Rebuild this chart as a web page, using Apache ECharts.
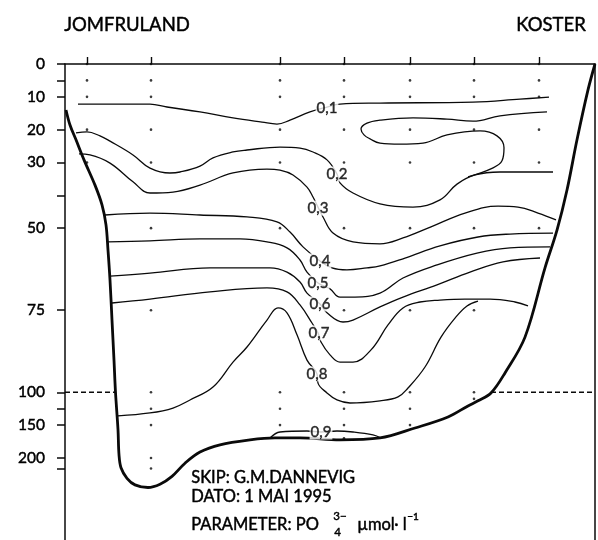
<!DOCTYPE html>
<html>
<head>
<meta charset="utf-8">
<script src="https://cdn.jsdelivr.net/npm/echarts@6/dist/echarts.min.js"></script>
<style>
html, body { margin: 0; padding: 0; background: #fff; }
#chart { width: 598px; height: 540px; }
</style>
</head>
<body>
<div id="chart"></div>
<script>
// Depth axis: linear down to 100 m, compressed five times below 100 m.
function toAxis(d) { return d <= 100 ? d : 100 + (d - 100) / 5; }
function fromAxis(t) { return t <= 100 ? t : 100 + (t - 100) * 5; }

// Section ends
const sectionEnds = ['JOMFRULAND', 'KOSTER'];

// Station positions along the section (distance units) and sampled depths (m)
const stations = [4.4, 17.2, 43, 55.8, 69, 81.8, 94.8];
const sampleDepths = [
  [0, 5, 10, 20, 30],
  [0, 5, 10, 20, 30, 50, 75, 100, 125, 150, 200, 216],
  [0, 5, 10, 20, 30, 50, 100, 125, 150],
  [0, 5, 10, 20, 30, 50, 75, 100, 125, 150, 170],
  [0, 5, 10, 20, 30, 50, 75, 100, 125, 150],
  [0, 5, 10, 20, 30, 50, 75, 100, 110],
  [0, 5, 10, 20, 30, 50]
];

// Depth axis ticks and labels (m)
const depthTicks = [0, 5, 10, 20, 30, 40, 50, 75, 100, 125, 150, 200, 216];
const depthLabels = [0, 10, 20, 30, 50, 75, 100, 150, 200];

// Sea floor profile [distance, depth m]
const seaFloor = [
  [0.2, 14], [1, 18.6], [2.2, 23.1], [3.8, 29.2], [6, 36.9], [7.4, 42.9], [8.2, 49],
  [8.6, 56.7], [9, 65.8], [9.4, 78], [9.8, 90.2], [10.1, 100], [10.6, 157], [10.8, 195],
  [11.2, 215], [12.4, 231], [14, 241], [16.6, 245], [19, 240], [21.4, 228], [24, 208],
  [27, 191], [31, 180], [37, 172.6], [42, 169.6], [47, 169.6], [55, 172.6], [63, 169.6],
  [70, 154.4], [76.6, 137.6], [80.6, 120.8], [82.6, 113], [85.2, 101], [88, 94.1],
  [92, 83.2], [96, 62.1], [98.4, 50.6], [100.4, 38.4], [102.4, 23.1], [104.6, 7.9], [106, 0]
];

// PO4 isolines [distance, depth m]
const iso01 = [
  [2.6, 12.2], [17, 12.2], [20.4, 13.1], [27, 14.6], [33.6, 16.4], [39.4, 17.7], [42.4, 18.3],
  [45, 17.1], [49, 14.6], [52.4, 13.1], [55, 12.2], [63, 11.9], [81.6, 11.6], [91, 10.7], [96.8, 10.1]
];
const iso02 = [
  [2.2, 21], [4.4, 20.7], [7, 21.9], [9, 23.5], [13.6, 27.7], [17, 31.7], [21, 33.2], [23, 32.9],
  [27, 31.1], [29.6, 28.6], [33.6, 26.8], [36.4, 26.2], [43, 25.3], [47, 25.6], [49.6, 26.8],
  [52.4, 29.2], [54.4, 33.5], [55, 36.2], [57.6, 39.3], [63, 42.6], [69.6, 43.6], [75, 41.4],
  [78.4, 36.6], [82, 33.8], [87, 32.9], [97.6, 32.9]
];
const iso02b = [
  [96.4, 14.6], [87, 15.8], [81.6, 17.4], [76.4, 16.8], [69.6, 16.4], [63, 17.1], [60.4, 18],
  [59.2, 19.8], [59.8, 21.6], [61, 22.8], [63, 24.1], [67, 24.4], [71.6, 24.1], [76.4, 21.6],
  [83, 20.4], [86.4, 21.9], [87.8, 25.5], [87.4, 29.5], [85.4, 31.8], [80.6, 34.4]
];
const iso03 = [
  [2.8, 27.4], [5, 27.7], [9, 30.2], [13.6, 35.9], [17, 39.3], [21.6, 39], [27, 36.9],
  [33.6, 33.2], [40.4, 32], [43, 32.3], [45.6, 33.8], [48.4, 37.5], [49.6, 40.5], [50.6, 43.6],
  [51.6, 46.6], [53.6, 51.5], [57.6, 54.2], [63, 54.8], [67.6, 53], [73.2, 49.6], [80, 45.4],
  [86.6, 43.3], [90.6, 43.6], [94.6, 45.4], [98.2, 47.5]
];
const iso04 = [
  [8, 46], [17, 45.4], [27, 46], [36.4, 46.6], [42.4, 48.1], [45, 51.2], [47.6, 55.7],
  [51, 60], [53.4, 62.1], [56.4, 62.7], [60.4, 62.1], [63, 61.5], [68, 59.1], [75, 55.4],
  [82.6, 52.7], [89, 51.8], [97.6, 51.5]
];
const iso05 = [
  [8.6, 54.2], [17, 53.9], [27, 53.3], [35, 53.3], [40.4, 54.2], [44.4, 56], [47, 59.7],
  [48.4, 63.4], [50.6, 66.7], [53, 68.5], [55, 71], [58, 71], [63, 69.8], [67.6, 65.2],
  [74.4, 61.2], [82.4, 57.6], [89, 56], [97, 55.7]
];
const iso06 = [
  [9, 64.6], [17, 63.7], [29, 62.1], [41, 62.1], [44.4, 63.4], [47, 66.4], [48.4, 69.8],
  [51, 73.1], [52.4, 75.8], [55.6, 78.6], [57.6, 78], [63, 74], [67.6, 71], [74.4, 67.3],
  [81, 63.4], [87.6, 60.3], [95, 59.1]
];
const iso07 = [
  [9.4, 72.8], [17, 71.6], [29, 69.4], [40.4, 68.2], [44.4, 69.4], [47, 73.4], [49.4, 78.9],
  [50.6, 81.9], [51.2, 84.7], [53, 88.6], [55, 90.8], [57.6, 90.8], [61.2, 87.1], [64.6, 79.5],
  [67.6, 74.3], [71, 72.5], [75, 71.9], [80, 71.6], [85, 71.6], [90, 72.5], [92.6, 73.7]
];
const iso08 = [
  [10.6, 136], [17, 131.5], [21.6, 124], [25, 111.7], [29.6, 98.4], [33.6, 90.8], [36.4, 86.2],
  [40.4, 78], [42.6, 74.3], [44.4, 75.8], [46.4, 82.5], [48.4, 90.2], [50.4, 94.4], [50.6, 97.2],
  [52.4, 101], [54.4, 111.7], [57, 116.3], [63, 113], [66.6, 107], [68.6, 98.7], [72, 92.3],
  [75.2, 83.2], [78, 77.4], [80.4, 73.7], [82.6, 72.2]
];
const iso09 = [
  [41, 169.6], [43, 160.5], [48.4, 159], [51.2, 160.5], [54.4, 159], [57.6, 160.5],
  [61.6, 165], [63.2, 169.6]
];
const isolines = [iso01, iso02, iso02b, iso03, iso04, iso05, iso06, iso07, iso08, iso09];

// Isoline labels [value, distance, depth m]
const isoLabels = [
  [0.1, 52.4, 13.4], [0.2, 54.4, 33.5], [0.3, 50.6, 43.9], [0.4, 51, 60], [0.5, 50.6, 66.7],
  [0.6, 51, 73.1], [0.7, 50.8, 81.9], [0.8, 50.4, 94.4], [0.9, 51.2, 160.5]
];

// 100 m reference line, cut by the sea floor
const refDepth = 100;
const refLeft = [0, 10.1];
const refRight = [85.2, 106];

const FONT = 'Lato';
const INK = '#0a0a0a';
// a hairline outline gives the regular face a medium weight
const HEAVY = { stroke: '#000', lineWidth: 0.45 };

function pts(arr) { return arr.map(p => [p[0], toAxis(p[1])]); }
function txt(text, size) { return Object.assign({ text: text, font: size + 'px ' + FONT, fill: '#000' }, HEAVY); }

const series = [];

series.push({
  type: 'line', data: pts(seaFloor), smooth: 0.35, symbol: 'none', clip: false,
  lineStyle: { color: INK, width: 2.8 }, z: 4
});

isolines.forEach(line => {
  series.push({
    type: 'line', data: pts(line), smooth: 0.4, symbol: 'none', clip: false,
    lineStyle: { color: INK, width: 1.3 }, z: 3
  });
});

[refLeft, refRight].forEach(seg => {
  series.push({
    type: 'line', data: seg.map(x => [x, toAxis(refDepth)]), symbol: 'none', clip: false,
    lineStyle: { color: INK, width: 1.4, type: [5, 3] }, z: 3
  });
});

const dots = [];
stations.forEach((x, i) => sampleDepths[i].forEach(d => dots.push([x, toAxis(d)])));
series.push({
  type: 'scatter', data: dots, symbol: 'circle', symbolSize: 2.6,
  itemStyle: { color: INK }, z: 5, silent: true
});

series.push({
  type: 'scatter', symbolSize: 0, z: 10,
  data: isoLabels.map(l => ({ value: [l[1], toAxis(l[2])], name: l[0].toFixed(1).replace('.', ',') })),
  label: {
    show: true, position: 'inside', formatter: p => p.name,
    fontFamily: FONT, fontSize: 15, color: '#000',
    textBorderColor: '#000', textBorderWidth: 0.45,
    backgroundColor: '#fff', padding: [0, 1]
  }
});

const option = {
  animation: false,
  backgroundColor: '#fff',
  grid: { left: 65, right: 3, top: 64, bottom: 0 },
  xAxis: {
    type: 'value', min: 0, max: 106, position: 'top', offset: 14,
    axisLine: { show: true, lineStyle: { color: INK, width: 1.5 } },
    axisTick: { show: true, customValues: stations, length: 7, lineStyle: { color: INK, width: 1.4 } },
    axisLabel: { show: false },
    splitLine: { show: false }
  },
  yAxis: [{
    type: 'value', inverse: true, min: 0, max: 145,
    axisLine: { show: true, onZero: false, lineStyle: { color: INK, width: 1.5 } },
    axisTick: { show: true, customValues: depthTicks.map(toAxis), length: 8, lineStyle: { color: INK, width: 1.5 } },
    axisLabel: {
      show: true, customValues: depthLabels.map(toAxis), margin: 20,
      formatter: v => String(Math.round(fromAxis(v))),
      fontFamily: FONT, fontSize: 15.5, color: '#000',
      textBorderColor: '#000', textBorderWidth: 0.45
    },
    splitLine: { show: false }
  }, {
    type: 'value', inverse: true, min: 0, max: 145, position: 'right',
    axisLine: { show: true, onZero: false, lineStyle: { color: INK, width: 1.5 } },
    axisTick: { show: false }, axisLabel: { show: false }, splitLine: { show: false }
  }],
  graphic: [
    { type: 'text', left: 64, top: 15, style: txt(sectionEnds[0], 18.5) },
    { type: 'text', right: 12, top: 15, style: txt(sectionEnds[1], 18.5) },
    { type: 'text', left: 191, top: 469, style: txt('SKIP: G.M.DANNEVIG', 16.5) },
    { type: 'text', left: 191, top: 488, style: txt('DATO: 1 MAI 1995', 16.5) },
    { type: 'text', left: 191, top: 516, style: txt('PARAMETER: PO', 16.5) },
    { type: 'text', left: 333, top: 510, style: txt('3\u2212', 11.5) },
    { type: 'text', left: 334, top: 526, style: txt('4', 11.5) },
    { type: 'text', left: 357, top: 516, style: txt('\u00b5mol\u00b7 l', 16.5) },
    { type: 'text', left: 407, top: 512, style: txt('\u22121', 10) }
  ],
  series: series
};

const chart = echarts.init(document.getElementById('chart'), null, { renderer: 'canvas' });
chart.setOption(option);
</script>
</body>
</html>
